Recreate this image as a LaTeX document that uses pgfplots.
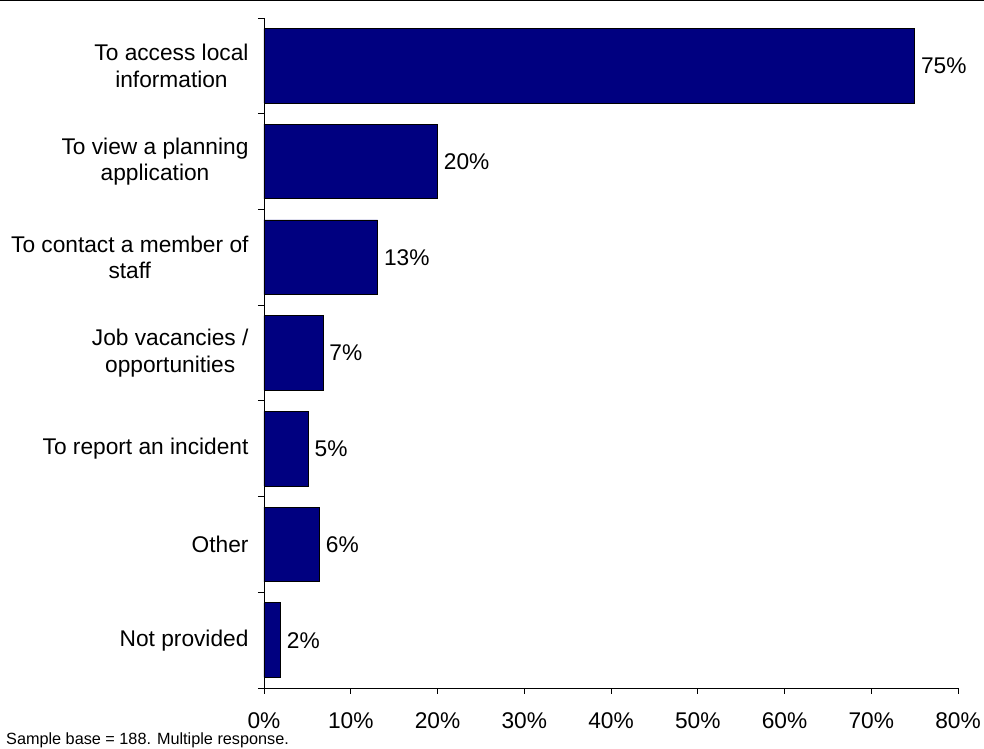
\documentclass[border=0pt]{standalone}
\usepackage{pgfplots}
\pgfplotsset{compat=1.18}
\usepackage{fontspec}
\setmainfont{Liberation Sans}
\definecolor{barnavy}{HTML}{000080}
\begin{document}
\begin{tikzpicture}
\path[use as bounding box] (-264bp,-61bp) rectangle (720bp,688bp);
\draw[line width=1.2bp,black] (-264bp,687.6bp) -- (720bp,687.6bp);
\begin{axis}[
  scale only axis,
  width=694bp, height=670bp,
  xmin=0, xmax=80, ymin=-0.5, ymax=6.5,
  axis lines*=left,
  axis line style={-, line width=0.8bp, black},
  xbar, bar width=0.78,
  xtick={0,10,...,80},
  xticklabels={0\%,10\%,20\%,30\%,40\%,50\%,60\%,70\%,80\%},
  x tick style={line width=0.8bp, black},
  tick align=outside,
  major tick length=6bp,
  xticklabel style={font=\fontsize{22.8}{26}\selectfont, anchor=base, yshift=-34bp},
  ytick={0,1,2,3,4,5,6},
  yticklabels={Not provided,Other,To report an incident,Job vacancies /\\opportunities,To contact a member of\\staff,To view a planning\\application,To access local\\information},
  y tick style={draw=none},
  yticklabel style={font=\fontsize{22.8}{26.7}\selectfont, align=center, anchor=east, xshift=-6bp},
  extra y ticks={-0.5,0.5,1.5,2.5,3.5,4.5,5.5,6.5},
  extra y tick labels={},
  extra y tick style={y tick style={draw=black, line width=0.8bp}, major tick length=6bp, tick align=outside},
  point meta=explicit symbolic,
  nodes near coords={\pgfplotspointmeta\%},
  nodes near coords style={font=\fontsize{22.8}{26}\selectfont, anchor=west, inner sep=0pt, xshift=6bp, black},
  clip=false,
]
\addplot[fill=barnavy, draw=black, line width=0.8bp] coordinates {
  (1.9,0) [2]
  (6.4,1) [6]
  (5.1,2) [5]
  (6.8,3) [7]
  (13.1,4) [13]
  (20.0,5) [20]
  (75.0,6) [75]
};
\end{axis}
\node[anchor=base west, inner sep=0pt, font=\fontsize{16.3}{19}\selectfont] at (-258bp,-56.5bp) {Sample base = 188. Multiple response.};
\end{tikzpicture}
\end{document}
